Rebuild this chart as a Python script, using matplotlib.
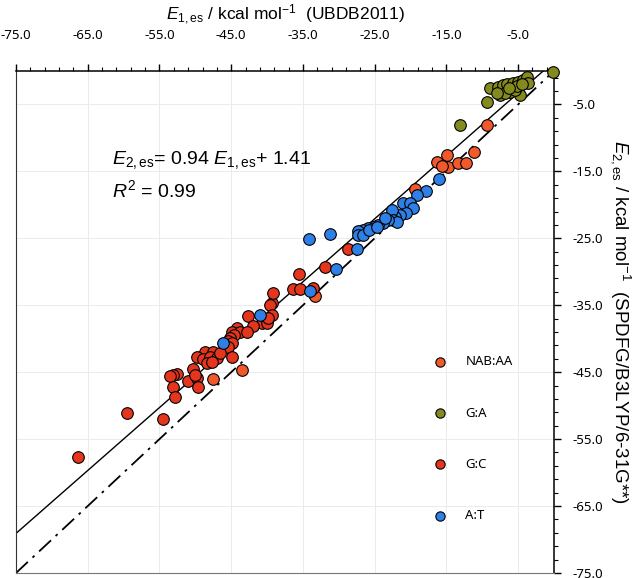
import matplotlib
matplotlib.use("Agg")
import matplotlib.pyplot as plt
import numpy as np
from matplotlib.ticker import MultipleLocator, FormatStrFormatter

# E1,es (UBDB2011) vs E2,es (SPDFG/B3LYP/6-31G**), kcal/mol
nab_x = [-16.36, -14.97, -14.74, -15.66, -13.35, -12.27, -11.10, -9.39, -19.39, -43.56, -47.60, -33.33]
nab_y = [-13.56, -12.56, -14.30, -14.20, -13.80, -13.71, -12.10, -8.07, -17.68, -44.69, -46.08, -33.63]

ga_x = [-0.10, -8.93, -7.77, -7.07, -6.60, -5.68, -4.98, -4.28, -3.81, -3.58, -7.53, -6.14, -4.98,
        -4.74, -5.44, -6.83, -7.99, -9.30, -13.11, -5.20, -6.30, -4.50]
ga_y = [-0.10, -2.59, -2.35, -2.09, -1.94, -1.84, -1.60, -1.35, -0.85, -1.75, -3.59, -3.09, -2.59,
        -3.59, -2.84, -3.33, -3.33, -4.68, -8.07, -2.20, -2.50, -2.00]

gc_x = [-39.37, -39.15, -39.61, -35.52, -36.36, -35.43, -31.94, -28.69, -33.57, -42.64, -39.37,
        -40.77, -42.02, -44.25, -44.95, -43.79, -42.86, -44.59, -45.19, -45.43, -44.95, -45.43,
        -48.68, -47.52, -49.83, -48.91, -47.98, -47.04, -46.58, -48.44, -47.74, -44.95, -50.39,
        -52.62, -53.10, -53.56, -51.00, -49.83, -50.07, -49.61, -53.18, -52.86, -54.49, -59.46,
        -66.35, -40.07, -39.89]
gc_y = [-34.72, -33.14, -34.98, -30.39, -32.63, -32.54, -29.25, -26.65, -32.48, -36.62, -36.47,
        -37.62, -38.12, -38.37, -38.97, -39.06, -38.97, -39.46, -39.96, -40.31, -40.70, -41.21,
        -41.96, -41.96, -42.80, -43.09, -42.71, -42.94, -42.20, -43.69, -43.45, -42.71, -44.54,
        -45.29, -45.44, -45.59, -46.29, -45.93, -45.44, -47.19, -47.19, -48.68, -52.06, -51.08,
        -57.74, -37.72, -36.92]

at_x = [-16.04, -17.85, -19.07, -21.02, -20.08, -19.62, -20.64, -21.48, -22.18, -22.64, -22.41,
        -21.94, -23.11, -23.81, -24.50, -25.20, -25.90, -26.60, -27.29, -27.29, -26.60, -25.76,
        -24.73, -23.57, -34.13, -31.24, -27.43, -30.45, -34.03, -41.00, -46.21]
at_y = [-16.19, -17.89, -18.53, -19.78, -19.69, -20.52, -21.18, -21.52, -21.78, -20.78, -22.27,
        -22.53, -22.27, -22.77, -23.02, -23.27, -23.51, -23.77, -23.87, -24.51, -24.51, -23.77,
        -23.27, -22.02, -25.16, -24.41, -26.65, -29.64, -32.84, -36.47, -40.70]

slope, intercept = 0.94, 1.41
line_x = np.array([-75.0, 0.0])

plt.rcParams.update({'font.family': 'Noto Sans', 'font.size': 9.5})
plt.rcParams['mathtext.fontset'] = 'custom'
plt.rcParams['mathtext.rm'] = 'Liberation Sans'
plt.rcParams['mathtext.it'] = 'Liberation Sans:italic'

fig = plt.figure(figsize=(6.4, 5.78), dpi=100)
ax = fig.add_axes([0.025, 0.0087, 0.8406, 0.8685])

# fit line and y = x reference
ax.plot(line_x, slope * line_x + intercept, color='black', linewidth=1.0, zorder=2)
ax.plot(line_x, line_x, color='black', linewidth=1.3, linestyle=(0, (9, 3.5, 1.5, 3.5)), zorder=2)

mk = dict(s=70, edgecolors='black', linewidths=0.8, zorder=3, clip_on=False)
h_nab = ax.scatter(nab_x, nab_y, color='#f2592a', label='NAB:AA', **mk)
h_gc = ax.scatter(gc_x, gc_y, color='#e5361d', label='G:C', **mk)
h_at = ax.scatter(at_x, at_y, color='#2f80e6', label='A:T', **mk)
h_ga = ax.scatter(ga_x, ga_y, color='#858a1e', label='G:A', **mk)

ax.set_xlim(-75, 0)
ax.set_ylim(-75, 0)

ax.xaxis.tick_top()
ax.xaxis.set_label_position('top')
ax.yaxis.tick_right()
ax.yaxis.set_label_position('right')
ax.xaxis.set_major_locator(MultipleLocator(10, offset=5))
ax.xaxis.set_minor_locator(MultipleLocator(2, offset=1))
ax.yaxis.set_major_locator(MultipleLocator(10, offset=5))
ax.yaxis.set_minor_locator(MultipleLocator(2, offset=1))
ax.xaxis.set_major_formatter(FormatStrFormatter('%.1f'))
ax.yaxis.set_major_formatter(FormatStrFormatter('%.1f'))
ax.tick_params(which='major', direction='out', length=5, width=1)
ax.tick_params(which='minor', direction='out', length=3, width=0.8)
ax.tick_params(axis='x', which='major', pad=16)
ax.tick_params(axis='y', which='major', pad=8)

ax.grid(True, which='major', color='#ebebeb', linewidth=0.7)
ax.set_axisbelow(True)

for side in ['top', 'right']:
    ax.spines[side].set_linewidth(1.1)
ax.spines['left'].set_color('#333333')
ax.spines['bottom'].set_color('#777777')

ax.set_xlabel(r'$E_{1,\mathrm{es}}$ / kcal mol$^{-1}$  (UBDB2011)', family='Liberation Sans',
              fontsize=12.5, labelpad=6)
ax.set_ylabel(r'$E_{2,\mathrm{es}}$ / kcal mol$^{-1}$  (SPDFG/B3LYP/6-31G**)', family='Liberation Sans',
              fontsize=13.5, rotation=-90, labelpad=22)

ax.text(0.178, 0.815, r'$E_{2,\mathrm{es}}$= 0.94 $E_{1,\mathrm{es}}$+ 1.41', transform=ax.transAxes,
        family='Liberation Sans', fontsize=14)
ax.text(0.178, 0.748, r'$R^2$ = 0.99', transform=ax.transAxes, family='Liberation Sans', fontsize=14)

ax.legend(handles=[h_nab, h_ga, h_gc, h_at], loc='upper left', bbox_to_anchor=(0.742, 0.457),
          frameon=False, labelspacing=2.9, handletextpad=0.9, fontsize=9.5, markerscale=0.8)

plt.savefig('out.png', dpi=100)
